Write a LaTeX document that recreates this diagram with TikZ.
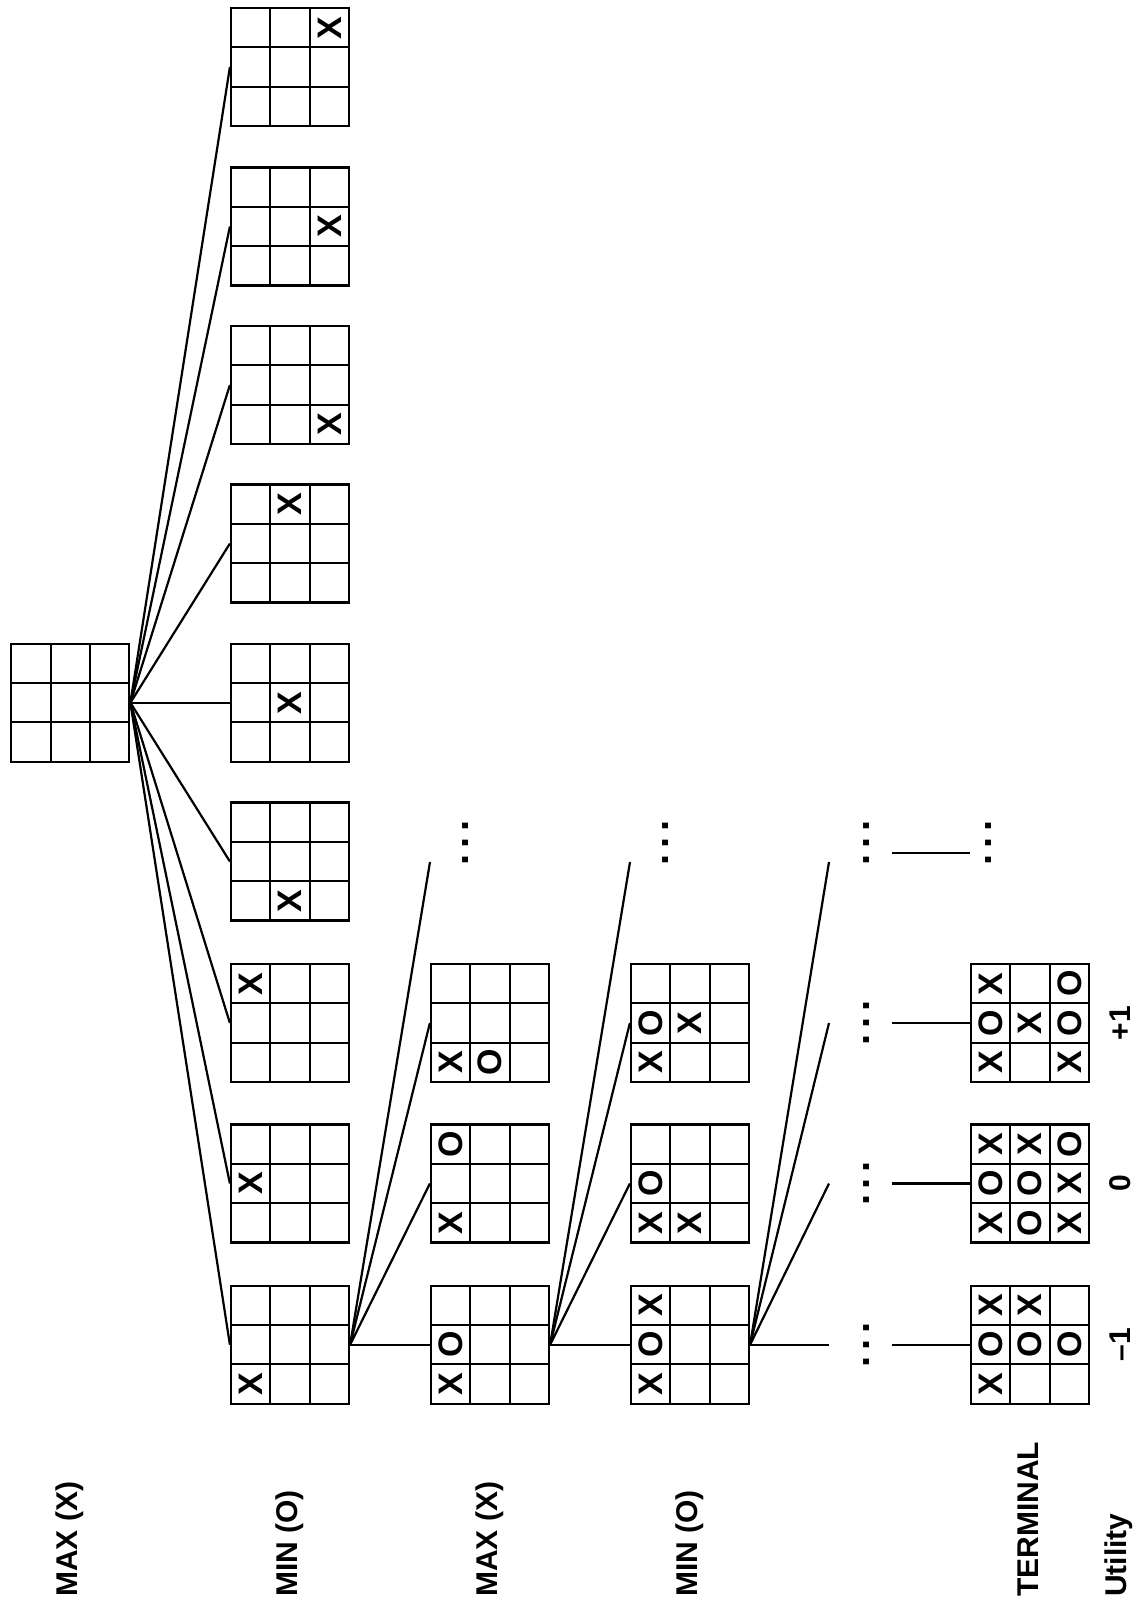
\documentclass[tikz,border=0pt]{standalone}
\usepackage{fontspec}
\setmainfont{Liberation Sans}
\usetikzlibrary{calc}

\newcommand\tttboard[3]{%
  \node[tttbox] (#1) at (#2) {};
  \foreach \k in {-1,1} {
    \draw ($(#1.center)+(\k*19.67,-59)$) -- ($(#1.center)+(\k*19.67,59)$);
    \draw ($(#1.center)+(-59,\k*19.67)$) -- ($(#1.center)+(59,\k*19.67)$);
  }
  \foreach \col/\row/\sym in {#3}
    \node[cellmark] at ($(#1.center)+({(\col-2)*39.33},{(\row-2)*39.33})$) {\sym};
}
\newcommand\dotstack{.\hspace{2.9pt}.\hspace{2.9pt}.}

\begin{document}
\begin{tikzpicture}[x=0.5pt,y=-0.5pt, line width=1.1pt,
  tttbox/.style={draw, minimum size=59pt, inner sep=0pt},
  cellmark/.style={font=\fontsize{17}{17}\selectfont\bfseries, rotate=90, inner sep=0pt},
  lvl/.style={font=\fontsize{15}{15}\selectfont\bfseries, rotate=90, anchor=west, inner sep=0pt},
  util/.style={font=\fontsize{15}{15}\selectfont\bfseries, rotate=90, inner sep=0pt},
  more/.style={font=\fontsize{20}{20}\selectfont\bfseries, rotate=90, inner sep=0pt}]
  \useasboundingbox (0,0) rectangle (1137,1614);

  \tttboard{root}{70.3,702.7}{2/2/{}}

  \tttboard{a1}{290,1344.7}{1/3/X}
  \tttboard{a2}{290,1183.5}{1/2/X}
  \tttboard{a3}{290,1023}{1/1/X}
  \tttboard{a4}{290,861.5}{2/3/X}
  \tttboard{a5}{290,702.7}{2/2/X}
  \tttboard{a6}{290,543.5}{2/1/X}
  \tttboard{a7}{290,385}{3/3/X}
  \tttboard{a8}{290,226.5}{3/2/X}
  \tttboard{a9}{290,67}{3/1/X}

  \tttboard{b1}{490,1344.7}{1/3/X, 1/2/O}
  \tttboard{b2}{490,1183.5}{1/3/X, 1/1/O}
  \tttboard{b3}{490,1023}{1/3/X, 2/3/O}

  \tttboard{c1}{690,1344.7}{1/3/X, 1/2/O, 1/1/X}
  \tttboard{c2}{690,1183.5}{1/3/X, 1/2/O, 2/3/X}
  \tttboard{c3}{690,1023}{1/3/X, 1/2/O, 2/2/X}

  \tttboard{t1}{1030,1344.7}{1/3/X, 1/2/O, 1/1/X, 2/2/O, 2/1/X, 3/2/O}
  \tttboard{t2}{1030,1183.5}{1/3/X, 1/2/O, 1/1/X, 2/3/O, 2/2/O, 2/1/X, 3/3/X, 3/2/X, 3/1/O}
  \tttboard{t3}{1030,1023}{1/3/X, 1/2/O, 1/1/X, 2/2/X, 3/3/X, 3/2/O, 3/1/O}

  \node[more] (m2) at (466,843) {\dotstack};
  \node[more] (m3) at (666,843) {\dotstack};
  \node[more] (m4) at (867,843) {\dotstack};
  \node[more] (mt) at (989,843) {\dotstack};
  \node[more] (n1) at (867,1344.7) {\dotstack};
  \node[more] (n2) at (867,1183.5) {\dotstack};
  \node[more] (n3) at (867,1023) {\dotstack};

  \foreach \i in {1,...,9}
    \draw (root.east) -- (a\i.west);
  \foreach \i in {1,2,3} {
    \draw (a1.east) -- (b\i.west);
    \draw (b1.east) -- (c\i.west);
    \draw (c1.east) -- ([xshift=-19pt]n\i.center);
    \draw ([xshift=12.5pt]n\i.center) -- (t\i.west);
  }
  \draw (a1.east) -- ([xshift=-18pt,yshift=-9.5pt]m2.center);
  \draw (b1.east) -- ([xshift=-18pt,yshift=-9.5pt]m3.center);
  \draw (c1.east) -- ([xshift=-19pt,yshift=-9.5pt]m4.center);
  \draw ([xshift=12.5pt,yshift=-5pt]m4.center) -- ([xshift=-9.5pt,yshift=-5pt]mt.center);

  \node[util] (u1) at (1120,1344.7) {–1};
  \node[util] (u2) at (1120,1183.5) {0};
  \node[util] (u3) at (1120,1023) {+1};

  \node[lvl] (lmax1) at (70,1598) {MAX (X)};
  \node[lvl] (lmin1) at (290,1598) {MIN (O)};
  \node[lvl] (lmax2) at (490,1598) {MAX (X)};
  \node[lvl] (lmin2) at (690,1598) {MIN (O)};
  \node[lvl] (lterm) at (1028,1598) {TERMINAL};
  \node[lvl] (lutil) at (1119,1598) {Utility};
\end{tikzpicture}
\end{document}
